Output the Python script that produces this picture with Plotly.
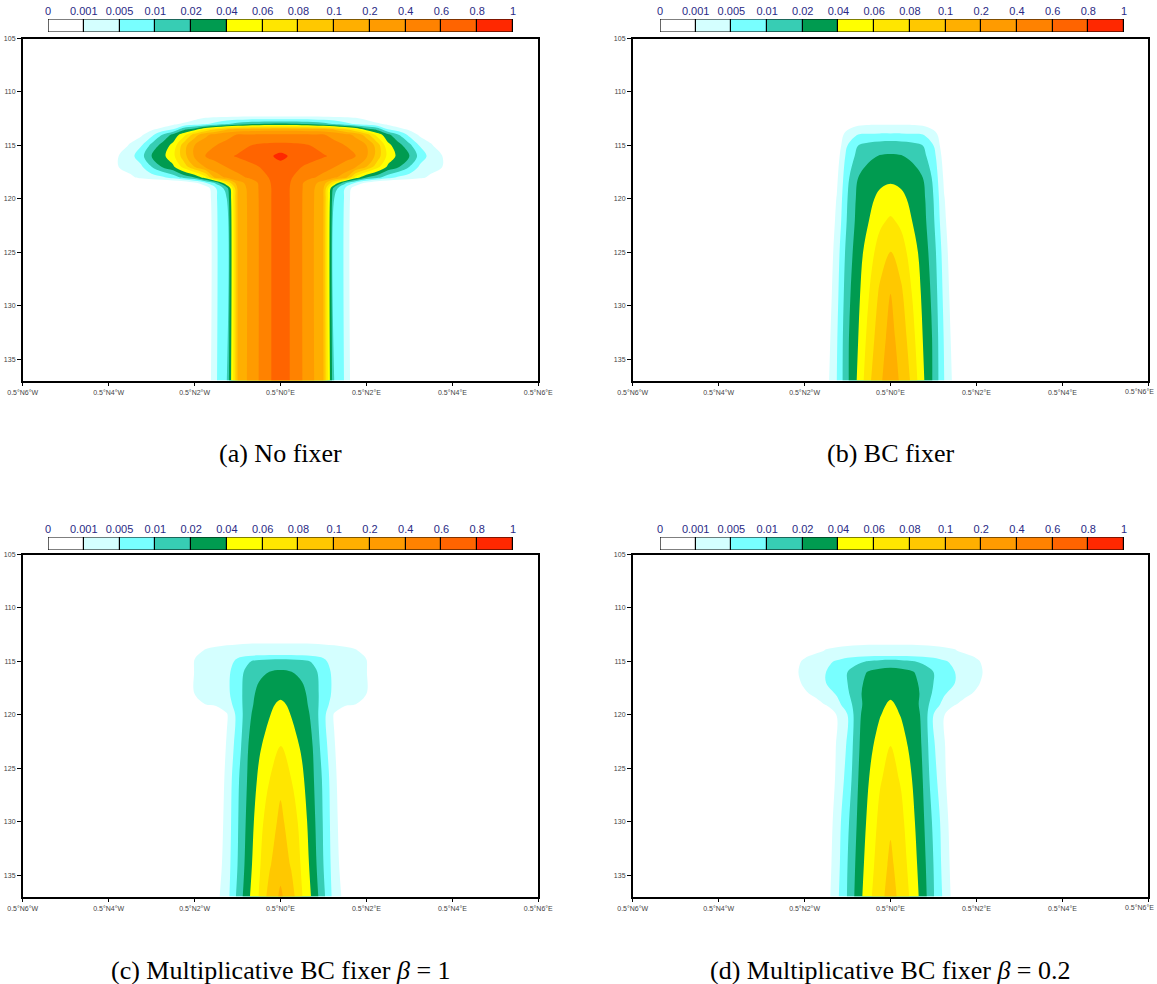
import numpy as np
import plotly.graph_objects as go

# ---------------- data ----------------
LEVELS = [0, 0.001, 0.005, 0.01, 0.02, 0.04, 0.06, 0.08, 0.1, 0.2, 0.4, 0.6, 0.8, 1]
LEVEL_LABELS = ["0", "0.001", "0.005", "0.01", "0.02", "0.04", "0.06", "0.08",
                "0.1", "0.2", "0.4", "0.6", "0.8", "1"]
COLORS = ["#FFFFFF", "#D4FFFF", "#78FFFF", "#37CDB4", "#009B50", "#FFFF00", "#FFE600",
          "#FFC800", "#FFAF00", "#FF9B00", "#FF8200", "#FF6400", "#FF2800"]

X_TICKS = [-6, -4, -2, 0, 2, 4, 6]
X_TICK_LABELS = ["0.5°N6°W", "0.5°N4°W", "0.5°N2°W", "0.5°N0°E",
                 "0.5°N2°E", "0.5°N4°E", "0.5°N6°E"]
Y_TICKS = [105, 110, 115, 120, 125, 130, 135]

# distance from the centre line (degrees), values are symmetric about 0
X_HALF = [0, 0.25, 0.5, 0.75, 1.0, 1.25, 1.5, 1.75, 2.0, 2.25, 2.5, 2.75,
          3.0, 3.25, 3.5, 3.75, 4.0, 4.25, 6.0]

# (a) No fixer
Y_A = [111, 112, 112.5, 113, 113.5, 114, 115, 116, 117, 118, 118.5, 119, 120, 137]
Q_A = [
    [0],
    [0],
    [.0038, .0038, .0038, .0038, .0034, .003, .0026, .0018, .0008, .0003],
    [.024, .022, .02, .018, .014, .0095, .0065, .0046, .0034, .0018, .0008, .0003],
    [.16, .16, .15, .14, .13, .098, .08, .06, .03, .017, .005, .0026, .0008],
    [.42, .42, .42, .41, .41, .34, .26, .18, .09, .052, .026, .01, .0038, .0008],
    [.66, .65, .63, .59, .52, .46, .40, .30, .20, .092, .046, .028, .013, .0046, .002],
    [.86, .77, .72, .67, .62, .56, .48, .40, .23, .092, .054, .034, .02, .008, .0034, .0014],
    [.72, .68, .60, .54, .48, .41, .32, .22, .10, .068, .036, .022, .01, .0042, .0026, .0014],
    [.72, .61, .52, .42, .34, .23, .15, .052, .02, .013, .007, .0042, .003, .0018, .0008],
    [.72, .59, .42, .26, .16, .064, .013, .0046, .0008],
    [.72, .58, .41, .24, .11, .015, .005, .0003],
    [.72, .58, .406, .23, .10, .01, .0046],
    [.72, .58, .406, .23, .10, .01, .0046],
]

# (b) BC fixer
Y_B = [112, 113, 114, 115, 116, 118, 120, 122, 125, 129, 133, 137]
Q_B = [
    [0],
    [.0009, .0009, .0009, .0008, .0006, .0003],
    [.00575, .00575, .0055, .0051, .0022, .0005],
    [.0157, .015, .0135, .01, .005, .0003],
    [.022, .021, .018, .013, .007, .0005],
    [.037, .035, .03, .02, .009, .0008],
    [.047, .044, .036, .026, .01, .0012],
    [.0632, .055, .04, .028, .0115, .0018],
    [.0812, .07, .05, .032, .0145, .003],
    [.102, .084, .06, .036, .017, .0038, .0002],
    [.13, .092, .068, .04, .0185, .0046, .0004],
    [.15, .097, .076, .044, .0185, .005, .0006],
]

# (c) Multiplicative BC fixer beta = 1
Y_C = [112, 113, 114, 114.5, 115, 116, 118, 119, 120, 123, 126, 130, 134, 137]
Q_C = [
    [0],
    [.0006, .0006, .0006, .0006, .0005, .0004, .0003, .0001],
    [.0042, .0042, .0042, .004, .0038, .0034, .0026, .0016, .0004],
    [.00525, .00525, .00515, .005, .0046, .0042, .0036, .0026, .0009],
    [.016, .015, .013, .0095, .00575, .0038, .003, .0022, .0012],
    [.022, .0204, .0175, .013, .008, .0038, .003, .0022, .0012],
    [.037, .034, .026, .015, .008, .004, .003, .0022, .0011],
    [.042, .038, .029, .016, .0075, .003, .0018, .00108, .0002],
    [.047, .0394, .032, .0175, .0065, .0009],
    [.0614, .05, .037, .02, .0075, .0014],
    [.076, .06, .044, .023, .009, .0022],
    [.084, .072, .052, .027, .0095, .0026, .0002],
    [.094, .078, .057, .031, .01, .003, .0004],
    [.115, .089, .061, .036, .0125, .0034, .0007],
]

# (d) Multiplicative BC fixer beta = 0.2
Y_D = [112, 113, 114, 114.5, 115, 116, 117, 118, 119, 120, 123, 126, 130, 134, 137]
Q_D = [
    [0],
    [.0006, .0006, .0006, .00055, .0005, .0004, .0003, .0001],
    [.003, .003, .003, .0028, .0026, .0022, .0014, .0006],
    [.00492, .00492, .0048, .0046, .0042, .0036, .003, .0022, .0008],
    [.014, .013, .011, .009, .00725, .0055, .0042, .0032, .002, .0005],
    [.028, .026, .022, .016, .01, .0075, .005, .004, .0026, .0007],
    [.032, .03, .026, .0175, .01, .0075, .005, .0038, .002, .0005],
    [.037, .034, .029, .018, .00925, .0055, .0034, .0022, .0008],
    [.042, .037, .03, .017, .0075, .0038, .0014, .0005],
    [.046, .039, .032, .018, .005, .0012],
    [.0604, .048, .035, .019, .00575, .0014],
    [.067, .058, .04, .02, .007, .0018],
    [.077, .065, .046, .024, .009, .003, .0002],
    [.084, .07, .051, .028, .01, .0034, .0004],
    [.088, .074, .055, .031, .01075, .004, .0005],
]

CAPTIONS = ["(a) No fixer", "(b) BC fixer",
            "(c) Multiplicative BC fixer <i>β</i> = 1",
            "(d) Multiplicative BC fixer <i>β</i> = 0.2"]

# ---------------- helpers ----------------
W, H = 1157, 984
x_full = [-v for v in X_HALF[::-1]] + X_HALF[1:]
band_index = np.arange(len(LEVELS))


def grid(rows):
    out = []
    for r in rows:
        half = list(r) + [0] * (len(X_HALF) - len(r))
        full = half[::-1] + half[1:]
        out.append(np.interp(full, LEVELS, band_index))
    return np.array(out)


n = len(COLORS)
cscale = [[j / (n - 1), COLORS[j]] for j in range(n)]


def px_x(p):
    return p / W


def px_y(p):
    return 1 - p / H


# panel geometry in pixels: (left, right, top, bottom)
panels = [(22.7, 538.3, 38.5, 380.5), (632.7, 1148.3, 38.5, 380.5),
          (22.7, 538.3, 554.5, 896.5), (632.7, 1148.3, 554.5, 896.5)]
cbars = [(48, 513, 19, 32), (660, 1124, 19, 32), (48, 513, 537, 550), (660, 1124, 537, 550)]
cap_pos = [(280.5, 453), (890.5, 453), (280.5, 970), (890.5, 970)]

fig = go.Figure()
data_sets = [(Y_A, Q_A), (Y_B, Q_B), (Y_C, Q_C), (Y_D, Q_D)]
layout = dict(width=W, height=H, margin=dict(l=0, r=0, t=0, b=0, autoexpand=False),
              paper_bgcolor="white", plot_bgcolor="white", showlegend=False)
shapes = []
annotations = []
tickfont = dict(family="Liberation Sans", size=7, color="#444444")

for i, (ys, qs) in enumerate(data_sets):
    k = i + 1
    xa = "x" if k == 1 else f"x{k}"
    ya = "y" if k == 1 else f"y{k}"
    fig.add_trace(go.Contour(
        x=x_full, y=ys, z=grid(qs), xaxis=xa, yaxis=ya,
        autocontour=False,
        contours=dict(start=1, end=12, size=1, coloring="fill", showlines=False),
        line=dict(width=0), colorscale=cscale, showscale=False, hoverinfo="skip"))
    l, r, t, b = panels[i]
    right_side = r > W - 20
    ttext = list(X_TICK_LABELS)
    if right_side:
        # last label would run past the page edge: draw it right-aligned instead
        ttext[-1] = ""
        annotations.append(dict(x=px_x(W - 1), y=px_y(b + 11), xref="paper", yref="paper",
                                text=X_TICK_LABELS[-1], showarrow=False,
                                xanchor="right", yanchor="middle", font=tickfont))
    layout["xaxis" if k == 1 else f"xaxis{k}"] = dict(
        domain=[px_x(l), px_x(r)], range=[-6, 6], anchor=ya, automargin=False,
        tickvals=X_TICKS, ticktext=ttext, ticks="outside", ticklen=4,
        tickwidth=1, tickcolor="black", showline=True, mirror=True,
        linecolor="black", linewidth=1.5, showgrid=False, zeroline=False,
        tickfont=tickfont)
    layout["yaxis" if k == 1 else f"yaxis{k}"] = dict(
        domain=[px_y(b), px_y(t)], range=[137, 105], anchor=xa, automargin=False,
        tickvals=Y_TICKS, ticks="outside", ticklen=4, tickwidth=1,
        tickcolor="black", showline=True, mirror=True, linecolor="black",
        linewidth=1.5, showgrid=False, zeroline=False, tickfont=tickfont)

    # label bar
    kb = k + 4
    xb, yb = f"x{kb}", f"y{kb}"
    fig.add_trace(go.Heatmap(
        x=list(range(n)), y=[0], z=[list(range(n))], zmin=0, zmax=n - 1,
        colorscale=cscale, showscale=False, xgap=1.2, hoverinfo="skip",
        xaxis=xb, yaxis=yb))
    cl, cr, ct, cb = cbars[i]
    layout[f"xaxis{kb}"] = dict(
        domain=[px_x(cl), px_x(cr)], range=[-0.5, n - 0.5], anchor=yb, side="top",
        automargin=False, ticklabelstandoff=1, ticklabeloverflow="allow",
        tickvals=[j - 0.5 for j in range(n + 1)], ticktext=LEVEL_LABELS,
        ticks="", showline=False, showgrid=False, zeroline=False,
        tickfont=dict(family="Liberation Sans", size=11, color="#2A2A85"))
    layout[f"yaxis{kb}"] = dict(domain=[px_y(cb), px_y(ct)], range=[-0.5, 0.5],
                                anchor=xb, visible=False, automargin=False)
    shapes.append(dict(type="rect", xref=xb, yref=yb, x0=-0.5, x1=n - 0.5,
                       y0=-0.5, y1=0.5, fillcolor="black",
                       line=dict(color="black", width=1), layer="below"))
    shapes.append(dict(type="rect", xref=xb, yref=yb, x0=-0.5, x1=n - 0.5,
                       y0=-0.5, y1=0.5, fillcolor="rgba(0,0,0,0)",
                       line=dict(color="black", width=1.2), layer="above"))

    cx, cy = cap_pos[i]
    annotations.append(dict(x=px_x(cx), y=px_y(cy), xref="paper", yref="paper",
                            text=CAPTIONS[i], showarrow=False, xanchor="center",
                            yanchor="middle",
                            font=dict(family="Liberation Serif", size=26, color="black")))

layout["shapes"] = shapes
layout["annotations"] = annotations
fig.update_layout(**layout)
fig.write_html("out.html")
